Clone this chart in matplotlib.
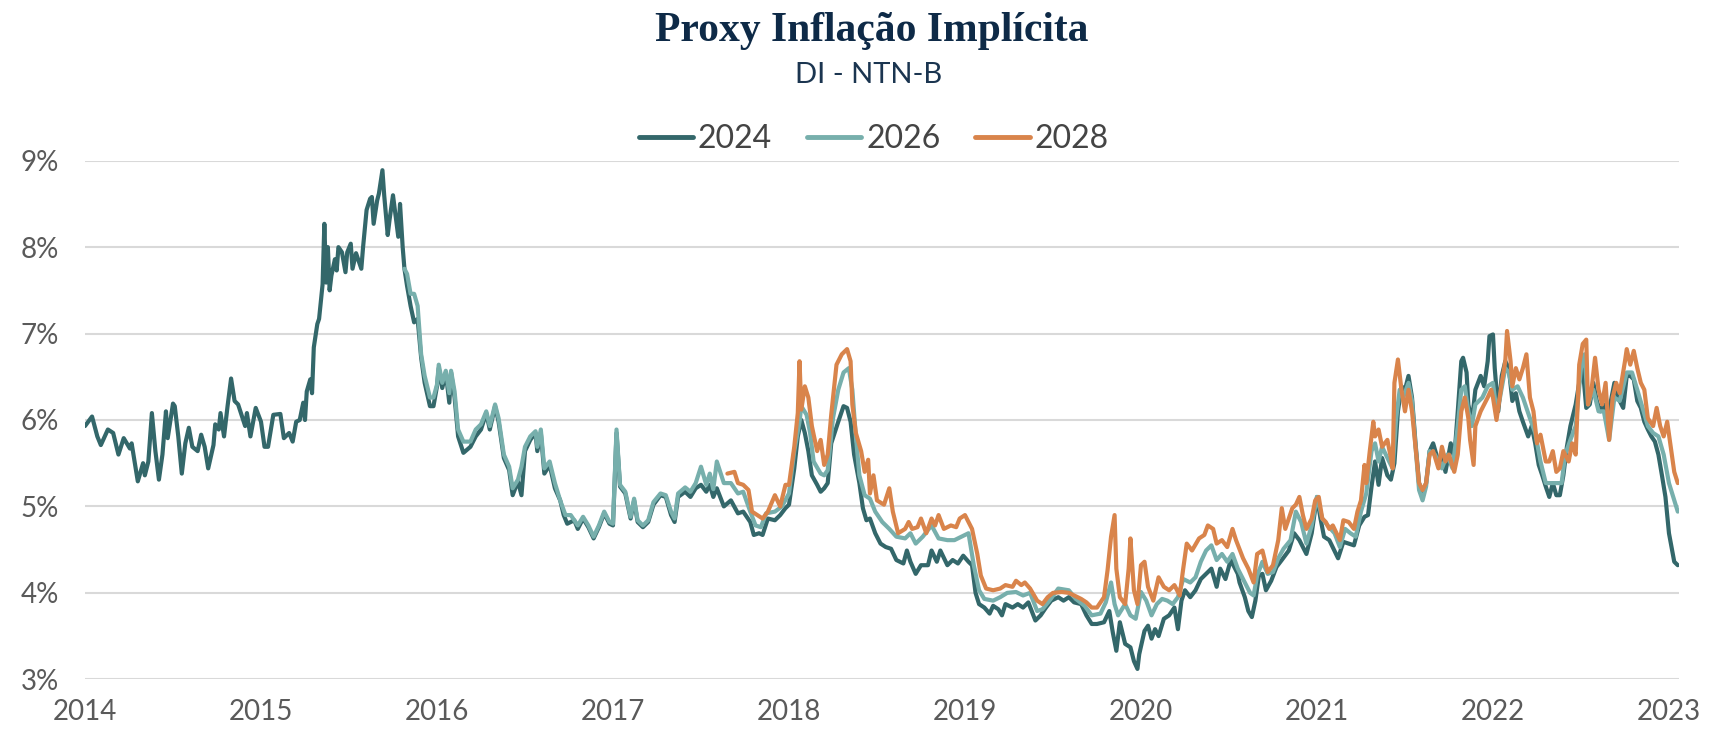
import matplotlib.pyplot as plt

# Proxy de inflação implícita (DI - NTN-B), vértices 2024 / 2026 / 2028
# pontos: (ano decimal, %)
pts_2024 = [
    (2014.00, 5.93), (2014.04, 6.04), (2014.07, 5.81), (2014.09, 5.71), (2014.13, 5.89),
    (2014.16, 5.85), (2014.19, 5.60), (2014.22, 5.79), (2014.255, 5.67), (2014.265, 5.73),
    (2014.30, 5.29), (2014.33, 5.50), (2014.34, 5.36), (2014.36, 5.52), (2014.38, 6.08),
    (2014.40, 5.64), (2014.42, 5.31), (2014.44, 5.60), (2014.46, 6.10), (2014.47, 5.79),
    (2014.50, 6.19), (2014.51, 6.16), (2014.53, 5.81), (2014.55, 5.38), (2014.57, 5.73),
    (2014.59, 5.91), (2014.61, 5.69), (2014.64, 5.64), (2014.66, 5.83), (2014.68, 5.69),
    (2014.70, 5.44), (2014.73, 5.71), (2014.74, 5.95), (2014.76, 5.89), (2014.77, 6.08),
    (2014.79, 5.81), (2014.81, 6.16), (2014.83, 6.48), (2014.85, 6.22), (2014.87, 6.18),
    (2014.91, 5.93), (2014.92, 6.08), (2014.94, 5.81), (2014.97, 6.14), (2015.00, 5.98),
    (2015.02, 5.69), (2015.04, 5.69), (2015.07, 6.06), (2015.11, 6.07), (2015.13, 5.79),
    (2015.16, 5.85), (2015.18, 5.75), (2015.20, 5.98), (2015.22, 6.00), (2015.24, 6.20),
    (2015.25, 6.00), (2015.26, 6.33), (2015.28, 6.47), (2015.29, 6.31), (2015.30, 6.84),
    (2015.32, 7.11), (2015.33, 7.17), (2015.35, 7.57), (2015.36, 8.27), (2015.37, 7.59),
    (2015.38, 8.00), (2015.39, 7.50), (2015.40, 7.67), (2015.42, 7.86), (2015.43, 7.73),
    (2015.44, 8.00), (2015.46, 7.94), (2015.48, 7.71), (2015.49, 7.94), (2015.51, 8.04),
    (2015.52, 7.75), (2015.54, 7.93), (2015.57, 7.75), (2015.58, 8.00), (2015.60, 8.43),
    (2015.62, 8.56), (2015.63, 8.58), (2015.64, 8.27), (2015.66, 8.54), (2015.67, 8.62),
    (2015.69, 8.89), (2015.70, 8.60), (2015.72, 8.14), (2015.73, 8.31), (2015.75, 8.60),
    (2015.78, 8.12), (2015.79, 8.50), (2015.805, 8.00), (2015.815, 7.75), (2015.83, 7.55),
    (2015.85, 7.32), (2015.87, 7.13), (2015.89, 7.17), (2015.91, 6.72), (2015.93, 6.43),
    (2015.96, 6.16), (2015.98, 6.16), (2016.00, 6.39), (2016.01, 6.60), (2016.03, 6.37),
    (2016.05, 6.55), (2016.07, 6.20), (2016.08, 6.55), (2016.10, 6.26), (2016.12, 5.81),
    (2016.15, 5.62), (2016.19, 5.69), (2016.22, 5.81), (2016.25, 5.89), (2016.28, 6.08),
    (2016.30, 5.89), (2016.33, 6.16), (2016.35, 5.98), (2016.38, 5.56), (2016.41, 5.42),
    (2016.43, 5.13), (2016.46, 5.29), (2016.48, 5.13), (2016.50, 5.64), (2016.53, 5.77),
    (2016.56, 5.85), (2016.57, 5.64), (2016.59, 5.85), (2016.61, 5.38), (2016.64, 5.48),
    (2016.67, 5.21), (2016.70, 5.07), (2016.72, 4.90), (2016.74, 4.80), (2016.78, 4.84),
    (2016.80, 4.74), (2016.83, 4.86), (2016.86, 4.76), (2016.89, 4.63), (2016.92, 4.76),
    (2016.95, 4.92), (2016.98, 4.80), (2017.00, 4.78), (2017.02, 5.85), (2017.04, 5.23),
    (2017.07, 5.15), (2017.10, 4.86), (2017.12, 5.07), (2017.14, 4.82), (2017.17, 4.76),
    (2017.20, 4.82), (2017.23, 5.02), (2017.27, 5.13), (2017.30, 5.11), (2017.33, 4.90),
    (2017.35, 4.82), (2017.37, 5.11), (2017.41, 5.17), (2017.44, 5.11), (2017.47, 5.21),
    (2017.50, 5.25), (2017.53, 5.17), (2017.55, 5.25), (2017.57, 5.11), (2017.59, 5.21),
    (2017.63, 5.00), (2017.67, 5.07), (2017.71, 4.92), (2017.74, 4.94), (2017.78, 4.82),
    (2017.80, 4.67), (2017.83, 4.69), (2017.85, 4.67), (2017.88, 4.86), (2017.92, 4.84),
    (2017.95, 4.90), (2017.98, 4.98), (2018.00, 5.02), (2018.03, 5.44), (2018.05, 5.81),
    (2018.07, 6.00), (2018.09, 5.85), (2018.11, 5.64), (2018.13, 5.36), (2018.16, 5.25),
    (2018.18, 5.17), (2018.20, 5.21), (2018.22, 5.27), (2018.24, 5.73), (2018.28, 5.98),
    (2018.31, 6.16), (2018.33, 6.14), (2018.35, 5.98), (2018.37, 5.60), (2018.40, 5.27),
    (2018.42, 4.98), (2018.44, 4.84), (2018.46, 4.86), (2018.49, 4.69), (2018.52, 4.57),
    (2018.55, 4.53), (2018.58, 4.51), (2018.61, 4.38), (2018.65, 4.34), (2018.67, 4.49),
    (2018.69, 4.36), (2018.72, 4.22), (2018.75, 4.32), (2018.79, 4.32), (2018.81, 4.49),
    (2018.84, 4.36), (2018.86, 4.49), (2018.90, 4.32), (2018.93, 4.38), (2018.96, 4.34),
    (2018.99, 4.43), (2019.02, 4.36), (2019.04, 4.32), (2019.06, 4.00), (2019.08, 3.87),
    (2019.11, 3.83), (2019.14, 3.76), (2019.16, 3.85), (2019.19, 3.81), (2019.21, 3.74),
    (2019.23, 3.87), (2019.27, 3.83), (2019.30, 3.87), (2019.33, 3.83), (2019.36, 3.89),
    (2019.40, 3.68), (2019.43, 3.74), (2019.46, 3.83), (2019.49, 3.91), (2019.53, 3.95),
    (2019.56, 3.91), (2019.59, 3.95), (2019.62, 3.89), (2019.66, 3.87), (2019.69, 3.74),
    (2019.72, 3.64), (2019.75, 3.64), (2019.79, 3.66), (2019.82, 3.79), (2019.84, 3.54),
    (2019.86, 3.33), (2019.88, 3.66), (2019.91, 3.41), (2019.94, 3.37), (2019.96, 3.21),
    (2019.98, 3.12), (2019.99, 3.29), (2020.02, 3.56), (2020.04, 3.62), (2020.06, 3.47),
    (2020.08, 3.58), (2020.10, 3.50), (2020.13, 3.70), (2020.16, 3.74), (2020.19, 3.83),
    (2020.21, 3.58), (2020.23, 3.91), (2020.25, 4.03), (2020.28, 3.95), (2020.31, 4.03),
    (2020.34, 4.16), (2020.37, 4.22), (2020.40, 4.28), (2020.43, 4.07), (2020.45, 4.28),
    (2020.48, 4.16), (2020.51, 4.38), (2020.55, 4.22), (2020.56, 4.12), (2020.59, 3.95),
    (2020.61, 3.79), (2020.63, 3.72), (2020.65, 3.91), (2020.67, 4.20), (2020.69, 4.22),
    (2020.71, 4.03), (2020.74, 4.14), (2020.77, 4.30), (2020.80, 4.38), (2020.84, 4.49),
    (2020.87, 4.69), (2020.90, 4.61), (2020.94, 4.45), (2020.97, 4.69), (2021.00, 5.11),
    (2021.02, 4.86), (2021.04, 4.65), (2021.07, 4.61), (2021.12, 4.40), (2021.15, 4.59),
    (2021.18, 4.57), (2021.21, 4.55), (2021.24, 4.78), (2021.27, 4.88), (2021.29, 4.90),
    (2021.31, 5.23), (2021.33, 5.52), (2021.35, 5.25), (2021.37, 5.56), (2021.40, 5.36),
    (2021.42, 5.31), (2021.44, 5.50), (2021.46, 6.10), (2021.48, 6.39), (2021.50, 6.35),
    (2021.52, 6.51), (2021.54, 6.26), (2021.56, 5.73), (2021.58, 5.27), (2021.60, 5.15),
    (2021.62, 5.27), (2021.64, 5.64), (2021.66, 5.73), (2021.69, 5.52), (2021.71, 5.60),
    (2021.73, 5.40), (2021.76, 5.73), (2021.78, 5.56), (2021.80, 6.10), (2021.82, 6.68),
    (2021.83, 6.72), (2021.85, 6.55), (2021.86, 6.18), (2021.88, 5.98), (2021.90, 6.35),
    (2021.93, 6.51), (2021.95, 6.39), (2021.97, 6.68), (2021.98, 6.97), (2022.00, 6.99),
    (2022.01, 6.60), (2022.03, 6.10), (2022.05, 6.51), (2022.07, 6.68), (2022.09, 6.60),
    (2022.11, 6.22), (2022.13, 6.31), (2022.15, 6.10), (2022.17, 5.98), (2022.20, 5.81),
    (2022.22, 5.93), (2022.24, 5.73), (2022.26, 5.48), (2022.28, 5.36), (2022.30, 5.23),
    (2022.32, 5.11), (2022.34, 5.27), (2022.36, 5.13), (2022.38, 5.13), (2022.40, 5.36),
    (2022.42, 5.69), (2022.44, 5.93), (2022.47, 6.18), (2022.49, 6.43), (2022.51, 6.60),
    (2022.53, 6.14), (2022.55, 6.18), (2022.57, 6.43), (2022.59, 6.22), (2022.61, 6.10),
    (2022.63, 6.18), (2022.65, 5.98), (2022.67, 6.22), (2022.69, 6.43), (2022.71, 6.26),
    (2022.74, 6.14), (2022.76, 6.51), (2022.78, 6.51), (2022.80, 6.47), (2022.82, 6.22),
    (2022.84, 6.14), (2022.86, 5.98), (2022.88, 5.89), (2022.90, 5.81), (2022.92, 5.75),
    (2022.94, 5.60), (2022.96, 5.36), (2022.98, 5.11), (2023.00, 4.69), (2023.03, 4.36),
    (2023.05, 4.32),
]

pts_2026 = [
    (2015.815, 7.75), (2015.83, 7.69), (2015.85, 7.46), (2015.87, 7.46), (2015.89, 7.32),
    (2015.91, 6.76), (2015.93, 6.51), (2015.96, 6.26), (2015.98, 6.26), (2016.00, 6.41),
    (2016.01, 6.64), (2016.03, 6.43), (2016.05, 6.57), (2016.07, 6.31), (2016.08, 6.57),
    (2016.10, 6.33), (2016.12, 5.89), (2016.15, 5.75), (2016.19, 5.75), (2016.22, 5.89),
    (2016.25, 5.95), (2016.28, 6.10), (2016.30, 5.93), (2016.33, 6.18), (2016.35, 6.02),
    (2016.38, 5.60), (2016.41, 5.46), (2016.43, 5.21), (2016.46, 5.31), (2016.48, 5.46),
    (2016.50, 5.69), (2016.53, 5.81), (2016.56, 5.87), (2016.57, 5.69), (2016.59, 5.89),
    (2016.61, 5.44), (2016.64, 5.52), (2016.67, 5.27), (2016.70, 5.07), (2016.73, 4.90),
    (2016.76, 4.90), (2016.80, 4.78), (2016.83, 4.88), (2016.86, 4.78), (2016.89, 4.65),
    (2016.92, 4.78), (2016.95, 4.94), (2016.98, 4.82), (2017.00, 4.80), (2017.02, 5.89),
    (2017.04, 5.25), (2017.07, 5.17), (2017.10, 4.88), (2017.12, 5.09), (2017.14, 4.84),
    (2017.17, 4.78), (2017.20, 4.84), (2017.23, 5.05), (2017.27, 5.15), (2017.30, 5.13),
    (2017.33, 4.94), (2017.35, 4.86), (2017.37, 5.15), (2017.41, 5.22), (2017.44, 5.17),
    (2017.47, 5.27), (2017.50, 5.46), (2017.53, 5.25), (2017.55, 5.38), (2017.57, 5.20),
    (2017.59, 5.52), (2017.63, 5.27), (2017.67, 5.27), (2017.71, 5.15), (2017.74, 5.17),
    (2017.78, 4.94), (2017.81, 4.78), (2017.84, 4.76), (2017.87, 4.92), (2017.92, 4.94),
    (2017.96, 5.00), (2018.00, 5.15), (2018.03, 5.64), (2018.06, 5.98), (2018.07, 6.16),
    (2018.10, 6.06), (2018.12, 5.85), (2018.14, 5.52), (2018.18, 5.38), (2018.20, 5.36),
    (2018.22, 5.42), (2018.25, 6.02), (2018.28, 6.35), (2018.31, 6.55), (2018.34, 6.60),
    (2018.36, 6.35), (2018.38, 5.81), (2018.40, 5.36), (2018.43, 5.13), (2018.46, 5.09),
    (2018.49, 4.94), (2018.53, 4.82), (2018.57, 4.74), (2018.61, 4.65), (2018.66, 4.63),
    (2018.69, 4.69), (2018.72, 4.57), (2018.76, 4.65), (2018.81, 4.78), (2018.85, 4.63),
    (2018.90, 4.61), (2018.94, 4.61), (2018.98, 4.65), (2019.02, 4.69), (2019.05, 4.32),
    (2019.08, 4.03), (2019.11, 3.93), (2019.16, 3.91), (2019.20, 3.95), (2019.24, 4.00),
    (2019.29, 4.01), (2019.33, 3.97), (2019.37, 4.00), (2019.41, 3.79), (2019.44, 3.81),
    (2019.48, 3.91), (2019.53, 4.05), (2019.59, 4.03), (2019.63, 3.93), (2019.68, 3.85),
    (2019.72, 3.74), (2019.77, 3.76), (2019.80, 3.89), (2019.83, 4.12), (2019.85, 3.87),
    (2019.87, 3.74), (2019.91, 3.87), (2019.94, 3.74), (2019.97, 3.70), (2020.00, 4.01),
    (2020.03, 3.91), (2020.06, 3.74), (2020.09, 3.87), (2020.12, 3.93), (2020.15, 3.91),
    (2020.18, 3.87), (2020.21, 3.95), (2020.24, 4.16), (2020.28, 4.12), (2020.31, 4.18),
    (2020.34, 4.36), (2020.37, 4.49), (2020.40, 4.55), (2020.43, 4.38), (2020.46, 4.45),
    (2020.49, 4.36), (2020.52, 4.45), (2020.55, 4.28), (2020.59, 4.12), (2020.62, 4.00),
    (2020.64, 3.97), (2020.66, 4.20), (2020.69, 4.36), (2020.72, 4.22), (2020.75, 4.24),
    (2020.78, 4.40), (2020.81, 4.51), (2020.85, 4.61), (2020.88, 4.94), (2020.91, 4.82),
    (2020.94, 4.57), (2020.97, 4.78), (2021.00, 5.11), (2021.03, 4.86), (2021.06, 4.78),
    (2021.10, 4.69), (2021.13, 4.53), (2021.16, 4.74), (2021.19, 4.69), (2021.22, 4.65),
    (2021.25, 4.94), (2021.28, 5.15), (2021.31, 5.64), (2021.33, 5.73), (2021.35, 5.52),
    (2021.37, 5.69), (2021.41, 5.52), (2021.43, 5.44), (2021.45, 6.02), (2021.47, 6.35),
    (2021.49, 6.26), (2021.52, 6.43), (2021.54, 6.22), (2021.56, 5.69), (2021.58, 5.19),
    (2021.60, 5.07), (2021.62, 5.23), (2021.64, 5.64), (2021.67, 5.60), (2021.71, 5.44),
    (2021.74, 5.60), (2021.77, 5.44), (2021.80, 5.93), (2021.82, 6.35), (2021.84, 6.39),
    (2021.86, 6.10), (2021.88, 5.93), (2021.90, 6.18), (2021.94, 6.26), (2021.97, 6.39),
    (2022.00, 6.43), (2022.02, 6.10), (2022.04, 6.26), (2022.07, 6.60), (2022.09, 6.55),
    (2022.11, 6.35), (2022.14, 6.39), (2022.17, 6.26), (2022.21, 6.02), (2022.24, 5.85),
    (2022.27, 5.52), (2022.30, 5.27), (2022.33, 5.27), (2022.36, 5.27), (2022.39, 5.27),
    (2022.41, 5.60), (2022.44, 5.77), (2022.47, 5.93), (2022.50, 6.60), (2022.52, 6.76),
    (2022.54, 6.18), (2022.57, 6.35), (2022.60, 6.10), (2022.63, 6.10), (2022.66, 5.77),
    (2022.69, 6.26), (2022.72, 6.22), (2022.76, 6.55), (2022.79, 6.55), (2022.82, 6.35),
    (2022.85, 6.14), (2022.88, 5.93), (2022.91, 5.85), (2022.94, 5.81), (2022.97, 5.60),
    (2023.00, 5.27), (2023.03, 5.07), (2023.05, 4.94),
]

pts_2028 = [
    (2017.65, 5.38), (2017.69, 5.40), (2017.71, 5.27), (2017.74, 5.25), (2017.77, 5.19),
    (2017.79, 4.94), (2017.82, 4.90), (2017.85, 4.86), (2017.88, 4.94), (2017.92, 5.13),
    (2017.95, 5.00), (2017.98, 5.25), (2018.00, 5.25), (2018.03, 5.69), (2018.05, 6.08),
    (2018.06, 6.68), (2018.07, 6.12), (2018.09, 6.39), (2018.11, 6.26), (2018.13, 5.93),
    (2018.16, 5.64), (2018.18, 5.77), (2018.20, 5.48), (2018.22, 5.60), (2018.24, 6.06),
    (2018.27, 6.64), (2018.30, 6.76), (2018.33, 6.82), (2018.35, 6.68), (2018.36, 6.18),
    (2018.38, 5.85), (2018.41, 5.64), (2018.43, 5.40), (2018.45, 5.54), (2018.46, 5.15),
    (2018.48, 5.36), (2018.50, 5.07), (2018.54, 5.02), (2018.57, 5.21), (2018.59, 4.94),
    (2018.62, 4.69), (2018.66, 4.74), (2018.68, 4.82), (2018.70, 4.74), (2018.73, 4.76),
    (2018.75, 4.86), (2018.78, 4.69), (2018.81, 4.86), (2018.83, 4.78), (2018.85, 4.90),
    (2018.88, 4.74), (2018.92, 4.78), (2018.95, 4.76), (2018.97, 4.86), (2019.00, 4.90),
    (2019.04, 4.74), (2019.07, 4.45), (2019.09, 4.20), (2019.12, 4.05), (2019.16, 4.03),
    (2019.20, 4.05), (2019.23, 4.09), (2019.27, 4.07), (2019.29, 4.14), (2019.32, 4.09),
    (2019.34, 4.12), (2019.37, 4.05), (2019.41, 3.91), (2019.44, 3.87), (2019.47, 3.95),
    (2019.50, 4.00), (2019.55, 4.01), (2019.59, 4.00), (2019.62, 3.97), (2019.66, 3.93),
    (2019.69, 3.89), (2019.72, 3.83), (2019.75, 3.83), (2019.79, 3.95), (2019.81, 4.26),
    (2019.83, 4.65), (2019.85, 4.90), (2019.86, 4.28), (2019.88, 3.95), (2019.91, 3.87),
    (2019.93, 4.28), (2019.94, 4.63), (2019.96, 4.03), (2019.98, 3.87), (2020.00, 4.32),
    (2020.02, 4.36), (2020.04, 4.07), (2020.07, 3.91), (2020.10, 4.18), (2020.13, 4.07),
    (2020.16, 4.03), (2020.19, 4.09), (2020.22, 3.97), (2020.24, 4.28), (2020.26, 4.57),
    (2020.29, 4.49), (2020.33, 4.63), (2020.36, 4.67), (2020.38, 4.78), (2020.41, 4.74),
    (2020.43, 4.57), (2020.46, 4.61), (2020.49, 4.53), (2020.52, 4.74), (2020.54, 4.61),
    (2020.58, 4.40), (2020.61, 4.28), (2020.64, 4.12), (2020.66, 4.45), (2020.69, 4.49),
    (2020.72, 4.24), (2020.75, 4.32), (2020.78, 4.61), (2020.80, 4.98), (2020.82, 4.74),
    (2020.86, 4.98), (2020.88, 5.02), (2020.90, 5.11), (2020.92, 4.90), (2020.94, 4.74),
    (2020.97, 4.86), (2020.99, 5.07), (2021.01, 5.11), (2021.03, 4.86), (2021.05, 4.82),
    (2021.07, 4.74), (2021.09, 4.78), (2021.13, 4.61), (2021.15, 4.84), (2021.18, 4.82),
    (2021.21, 4.74), (2021.23, 4.94), (2021.25, 5.07), (2021.27, 5.48), (2021.28, 5.27),
    (2021.30, 5.64), (2021.32, 5.98), (2021.33, 5.81), (2021.35, 5.89), (2021.37, 5.69),
    (2021.40, 5.77), (2021.42, 5.56), (2021.43, 5.44), (2021.44, 6.43), (2021.46, 6.70),
    (2021.48, 6.35), (2021.50, 6.10), (2021.52, 6.35), (2021.54, 6.10), (2021.56, 5.69),
    (2021.58, 5.27), (2021.60, 5.19), (2021.62, 5.27), (2021.64, 5.60), (2021.66, 5.64),
    (2021.69, 5.44), (2021.71, 5.69), (2021.73, 5.52), (2021.75, 5.60), (2021.78, 5.40),
    (2021.80, 5.60), (2021.82, 6.10), (2021.84, 6.26), (2021.86, 6.02), (2021.87, 5.77),
    (2021.89, 5.48), (2021.90, 5.93), (2021.93, 6.10), (2021.95, 6.18), (2021.97, 6.26),
    (2021.99, 6.35), (2022.00, 6.26), (2022.02, 6.00), (2022.05, 6.43), (2022.07, 6.68),
    (2022.08, 7.03), (2022.10, 6.68), (2022.11, 6.39), (2022.13, 6.60), (2022.15, 6.47),
    (2022.17, 6.60), (2022.19, 6.76), (2022.21, 6.26), (2022.23, 6.10), (2022.25, 5.73),
    (2022.27, 5.83), (2022.30, 5.52), (2022.32, 5.52), (2022.34, 5.64), (2022.36, 5.40),
    (2022.38, 5.44), (2022.40, 5.64), (2022.43, 5.52), (2022.45, 5.73), (2022.47, 5.60),
    (2022.49, 6.64), (2022.51, 6.88), (2022.53, 6.93), (2022.54, 6.18), (2022.56, 6.35),
    (2022.58, 6.72), (2022.60, 6.35), (2022.62, 6.18), (2022.64, 6.43), (2022.66, 5.77),
    (2022.68, 6.26), (2022.70, 6.43), (2022.72, 6.31), (2022.75, 6.68), (2022.76, 6.82),
    (2022.78, 6.64), (2022.80, 6.80), (2022.82, 6.60), (2022.84, 6.43), (2022.86, 6.35),
    (2022.88, 6.02), (2022.91, 5.93), (2022.93, 6.14), (2022.95, 5.93), (2022.97, 5.81),
    (2022.99, 5.98), (2023.01, 5.69), (2023.03, 5.40), (2023.05, 5.27),
]

series_names = ["2024", "2026", "2028"]
series_pts = [pts_2024, pts_2026, pts_2028]
colors = ["#33676a", "#77afac", "#d9844b"]

year_ticks = list(range(2014, 2024))
pct_ticks = [3, 4, 5, 6, 7, 8, 9]

plt.rcParams["font.family"] = ["Lato", "DejaVu Sans"]

fig = plt.figure(figsize=(17.13, 7.3), dpi=100)
ax = fig.add_axes([85 / 1713, 1 - 679.3 / 730, (1679 - 85) / 1713, (679.3 - 160.7) / 730])

for name, pts, c in zip(series_names, series_pts, colors):
    xs = [p[0] for p in pts]
    ys = [p[1] for p in pts]
    ax.plot(xs, ys, color=c, linewidth=3.0, label=name,
            solid_joinstyle="round", solid_capstyle="round")

ax.set_xlim(2014, 2023.057)
ax.set_ylim(3, 9)
ax.set_xticks(year_ticks)
ax.set_xticklabels([str(y) for y in year_ticks])
ax.set_yticks(pct_ticks)
ax.set_yticklabels([f"{v}%" for v in pct_ticks])
ax.tick_params(axis="both", length=0, labelsize=20, labelcolor="#5a5a5a")
ax.tick_params(axis="y", pad=19)
ax.tick_params(axis="x", pad=14)
ax.grid(axis="y", color="#d9d9d9", linewidth=1.5)
ax.set_axisbelow(True)
for s in ax.spines.values():
    s.set_visible(False)

fig.text(0.509, 0.958, "Proxy Inflação Implícita", ha="center", va="center",
         fontsize=30, fontweight="bold", family="Liberation Serif", color="#0e2a47")
fig.text(0.507, 0.897, "DI - NTN-B", ha="center", va="center",
         fontsize=21, color="#1b3550")

fig.legend(loc="center", bbox_to_anchor=(0.51, 0.81), ncol=3, frameon=False,
           fontsize=23, handlelength=1.7, handletextpad=0.15, columnspacing=1.1,
           labelcolor="#444444")
for line in fig.legends[0].get_lines():
    line.set_linewidth(3.5)

fig.savefig("out.png", dpi=100)
